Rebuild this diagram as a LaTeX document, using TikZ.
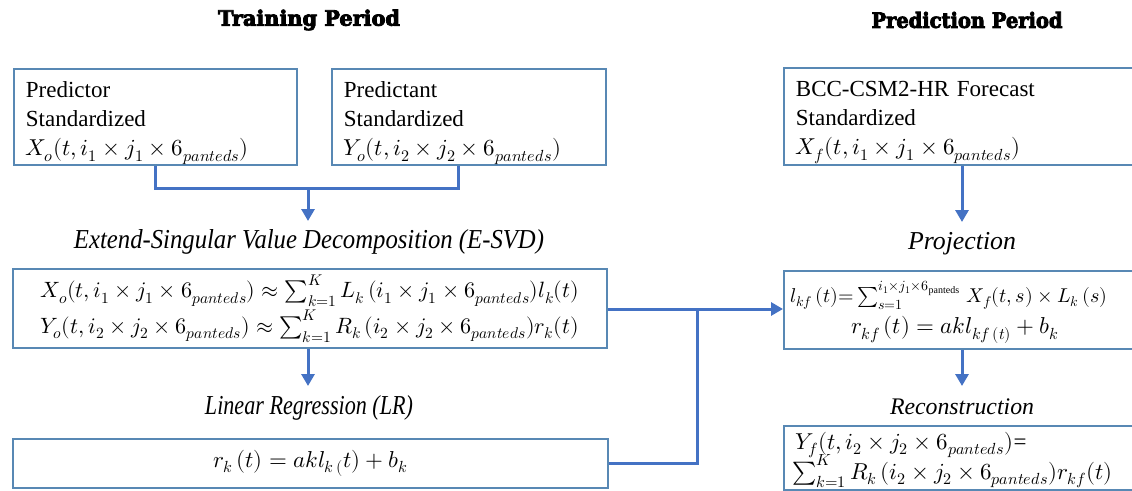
\documentclass[tikz,border=0pt]{standalone}
\usepackage{fontspec}
\usepackage{unicode-math}
\setmainfont{Liberation Serif}
\setmathfont{Latin Modern Math}
\newfontfamily\titlefont{DejaVu Serif}[BoldFeatures={FakeBold=4}]
\usetikzlibrary{arrows.meta}
\definecolor{boxc}{RGB}{88,136,180}
\definecolor{linec}{RGB}{68,114,196}
\newcommand{\pan}{6_{panteds}}
\newcommand{\topstrut}{\rule{0pt}{28pt}}
\begin{document}
\begin{tikzpicture}[x=1pt,y=-1pt,
  every node/.style={font=\fontsize{23}{29}\selectfont},
  box/.style={draw=boxc, line width=1.8pt, rectangle, inner sep=0pt, anchor=north west},
  lbox/.style={box, align=left, inner xsep=12pt},
  cbox/.style={box, align=center},
  ln/.style={anchor=base west, inner sep=0pt},
  conn/.style={draw=linec, line width=3pt},
  arr/.style={conn, -{Triangle[length=12pt,width=13pt]}},
  title/.style={font=\titlefont\bfseries},
  lbl/.style={font=\fontsize{23}{29}\selectfont\itshape}]
\useasboundingbox (0,0) rectangle (1132,490);
% titles
\node[title] (t1) at (309,20) {\resizebox{182pt}{16pt}{Training Period}};
\node[title] (t2) at (967,20) {\resizebox{191pt}{16pt}{Prediction Period}};
% training boxes
\node[lbox, text width=259pt, minimum height=96pt] (pred) at (13,68)
  {\topstrut Predictor\\Standardized\\$X_o(t,i_1\times j_1\times \pan)$};
\node[lbox, text width=250pt, minimum height=96pt] (pdt) at (331,68)
  {\topstrut Predictant\\Standardized\\$Y_o(t,i_2\times j_2\times \pan)$};
\node[lbl] (esvdl) at (309,242) {\resizebox{470pt}{19pt}{Extend-Singular Value Decomposition (E-SVD)}};
\node[cbox, minimum width=594pt, minimum height=79pt] (esvd) at (12,268)
  {\resizebox{548pt}{!}{$\begin{array}{c}
   X_o(t,i_1\times j_1\times \pan)\approx \sum_{k=1}^{K} L_k\,(i_1\times j_1\times \pan) l_k(t)\\[4pt]
   Y_o(t,i_2\times j_2\times \pan)\approx \sum_{k=1}^{K} R_k\,(i_2\times j_2\times \pan) r_k(t)\end{array}$}};
\node[lbl] (lrl) at (309,408) {\resizebox{208pt}{19pt}{Linear Regression (LR)}};
\node[cbox, minimum width=595pt, minimum height=49pt] (lr) at (12,438)
  {$r_k\,(t) = akl_{k\,(}t) + b_k$};
% prediction boxes
\node[lbox, text width=333pt, minimum height=97pt] (bcc) at (783,67)
  {\topstrut BCC-CSM2-HR Forecast\\Standardized\\$X_f(t,i_1\times j_1\times \pan)$};
\node[lbl] (projl) at (962,244) {\resizebox{108pt}{!}{Projection}};
\node[box, minimum width=357pt, minimum height=78pt] (proj) at (783,270) {};
\node[ln] (pf1) at (790,302) {\resizebox{317pt}{!}{$l_{kf}\,(t){=}\sum_{s=1}^{i_1{\times}j_1{\times}6_{\mathrm{panteds}}}\, X_f(t,s)\times L_k\,(s)$}};
\node (pf2) at (955,330) {$r_{kf}\,(t) = akl_{kf\,(t)} + b_k$};
\node[lbl] (recl) at (962,407) {\resizebox{144pt}{!}{Reconstruction}};
\node[box, minimum width=357pt, minimum height=64pt] (rec) at (783,425) {};
\node[ln] (rf1) at (795,449) {$Y_f(t,i_2\times j_2\times \pan)$=};
\node[ln] (rf2) at (792,479) {$\sum_{k=1}^{K} R_k\,(i_2\times j_2\times \pan) r_{kf}(t)$};
% connectors
\coordinate (j1) at (308,188);
\coordinate (a1) at (308,221);
\draw[conn] (pred.south) |- (j1) -| ([xshift=-10pt]pdt.south);
\draw[arr] (j1) -- (a1);
\coordinate (a2) at (308,386);
\draw[arr] (esvd.south -| a2) -- (a2);
\coordinate (j2) at (697,309);
\draw[arr] (esvd.east |- j2) -- (proj.west |- j2);
\draw[conn] (lr.east) -| (j2);
\coordinate (a3) at (962,222);
\draw[arr] (bcc.south -| a3) -- (a3);
\coordinate (a4) at (962,386);
\draw[arr] (proj.south -| a4) -- (a4);
\end{tikzpicture}
\end{document}
